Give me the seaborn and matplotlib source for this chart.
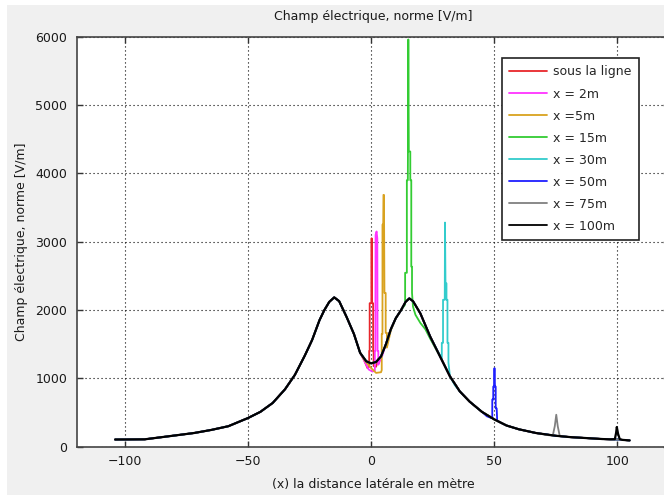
import matplotlib
matplotlib.use("Agg")
import matplotlib.pyplot as plt
from matplotlib.patches import Rectangle
import seaborn as sns
import pandas as pd

# ---- data ----
base_x = [-104, -92, -85, -72, -65, -58, -50, -45, -40, -35, -31, -27, -24, -21, -19,
          -17, -15, -13, -10, -7, -4.5, -2, 0, 2, 4, 6, 8, 10, 12, 14, 15.5, 17, 20,
          24, 28, 32, 36, 40, 45, 50, 55, 60, 67, 75, 81, 88, 94, 100, 105]
base_y = [105, 108, 140, 200, 245, 300, 420, 510, 640, 840, 1050, 1330, 1560, 1850, 2000,
          2120, 2185, 2130, 1900, 1650, 1375, 1250, 1220, 1240, 1320, 1500, 1720, 1880, 1990,
          2120, 2170, 2130, 1950, 1610, 1320, 1030, 810, 660, 510, 400, 310, 255, 200, 160,
          140, 125, 112, 105, 92]

labels = ["sous la ligne", "x = 2m", "x =5m", "x = 15m", "x = 30m",
          "x = 50m", "x = 75m", "x = 100m"]
colors = ["#e8262b", "#ff33ff", "#d9a21f", "#33cc33", "#33cccc",
          "#1f1fff", "#808080", "#000000"]

# local profiles (replace the base curve inside each window)
red_x = [-3, -1.5, -0.8, -0.8, -0.6, -0.6, 0.1, 0.2, 0.3, 0.8, 0.8, 1.0, 1.0, 2.0, 3.0]
red_y = [1280, 1150, 1170, 1400, 1400, 2100, 2100, 3050, 2100, 2100, 1400, 1400, 1180,
         1170, 1290]
pink_x = [-3, -1.0, 0.5, 1.5, 1.5, 1.7, 1.8, 2.2, 2.5, 2.6, 2.9, 2.9, 3.5, 4.5]
pink_y = [1270, 1130, 1100, 1110, 1400, 1400, 3100, 3150, 3050, 1400, 1400, 1200, 1250,
          1330]
orange_x = [-3, 0.0, 2.0, 4.0, 4.3, 4.3, 4.6, 4.6, 4.9, 5.0, 5.2, 5.4, 5.9, 5.9, 6.4,
            6.4, 8.0]
orange_y = [1280, 1150, 1080, 1090, 1120, 1650, 1650, 3250, 3250, 3685, 3685, 2250, 2250,
            1665, 1665, 1450, 1700]
green_x = [12, 13.8, 13.8, 14.5, 14.5, 14.9, 15.1, 15.3, 15.9, 15.9, 16.3, 16.3, 16.6,
           16.6, 17.0, 18, 20, 22, 24]
green_y = [1990, 2080, 2545, 2545, 3900, 3900, 5960, 4320, 4320, 3900, 3900, 2635, 2635,
           2250, 2050, 1930, 1810, 1720, 1580]
cyan_x = [27.5, 28.7, 28.7, 29.2, 29.2, 29.9, 30.0, 30.2, 30.6, 30.6, 31.0, 31.0, 31.4,
          31.4, 32, 34]
cyan_y = [1370, 1290, 1520, 1520, 2150, 2150, 3280, 2390, 2390, 2150, 2150, 1520, 1520,
          1230, 1030, 900]
blue_x = [47, 48.8, 49.2, 49.2, 49.6, 49.6, 49.9, 50.1, 50.3, 50.6, 50.6, 51.0, 51.2, 53]
blue_y = [445, 420, 420, 690, 690, 880, 880, 1150, 880, 880, 560, 560, 380, 345]
gray_x = [72, 73.8, 74.6, 75.2, 75.8, 76.6, 78]
gray_y = [168, 165, 300, 468, 300, 160, 150]
black_x = [97, 99.0, 99.5, 99.8, 100.3, 101.0, 102]
black_y = [108, 110, 200, 288, 190, 110, 100]

local_x = [red_x, pink_x, orange_x, green_x, cyan_x, blue_x, gray_x, black_x]
local_y = [red_y, pink_y, orange_y, green_y, cyan_y, blue_y, gray_y, black_y]

# ---- assemble long-form table ----
frames = []
for lab, lx, ly in zip(labels, local_x, local_y):
    lo, hi = lx[0], lx[-1]
    xs = [x for x in base_x if x < lo] + list(lx) + [x for x in base_x if x > hi]
    ys = ([y for x, y in zip(base_x, base_y) if x < lo] + list(ly)
          + [y for x, y in zip(base_x, base_y) if x > hi])
    frames.append(pd.DataFrame({"x": xs, "y": ys, "serie": lab}))
df = pd.concat(frames, ignore_index=True)

sns.set_theme(style="white")
plt.rcParams["font.family"] = ["DejaVu Sans"]

fig = plt.figure(figsize=(6.64, 4.95), dpi=100)
fig.patch.set_facecolor("white")
fig.patches.append(Rectangle((7 / 664, 0), 1 - 7 / 664, 490 / 495,
                             transform=fig.transFigure, facecolor="#f0f0f0",
                             edgecolor="none", zorder=-10))
ax = fig.add_axes([77 / 664, 48.3 / 495, 592 / 664, 410 / 495])
ax.set_facecolor("white")

sns.lineplot(data=df, x="x", y="y", hue="serie", hue_order=labels,
             palette=dict(zip(labels, colors)), estimator=None, sort=False,
             units="serie", linewidth=1.3, ax=ax)
ax.get_lines()[len(labels) - 1].set_linewidth(1.6)

ax.set_xlim(-119.5, 121)
ax.set_ylim(0, 6000)
ax.set_xticks([-100, -50, 0, 50, 100])
ax.set_yticks([0, 1000, 2000, 3000, 4000, 5000, 6000])
ax.grid(True, color="black", linestyle=(0, (1, 2.6)), linewidth=0.8)
ax.set_axisbelow(True)
ax.tick_params(direction="in", length=4.5, width=1, colors="#333333",
               labelcolor="#1a1a1a", labelsize=9, top=True, right=True,
               bottom=True, left=True)
ax.tick_params(axis="x", pad=6)
ax.tick_params(axis="y", pad=7)
for s in ax.spines.values():
    s.set_color("#444444")
    s.set_linewidth(1.2)

ax.set_title("Champ électrique, norme [V/m]", fontsize=9, pad=12, color="#1a1a1a")
ax.set_xlabel("(x) la distance latérale en mètre", fontsize=9, labelpad=7, color="#1a1a1a")
ax.set_ylabel("Champ électrique, norme [V/m]", fontsize=9, labelpad=5, color="#1a1a1a")

leg = ax.legend(loc="upper right", bbox_to_anchor=((639 - 77) / 592, (446.7 - 58) / 410),
                borderaxespad=0, fontsize=9, frameon=True, fancybox=False,
                handlelength=3.0, handletextpad=0.5, labelspacing=0.72,
                borderpad=0.6, title=None)
leg.get_frame().set_edgecolor("#222222")
leg.get_frame().set_linewidth(1.2)
leg.get_frame().set_facecolor("white")
leg.get_frame().set_alpha(1)
for line in leg.get_lines():
    line.set_linewidth(1.3)

fig.savefig("out.png", dpi=100, facecolor=fig.get_facecolor())
